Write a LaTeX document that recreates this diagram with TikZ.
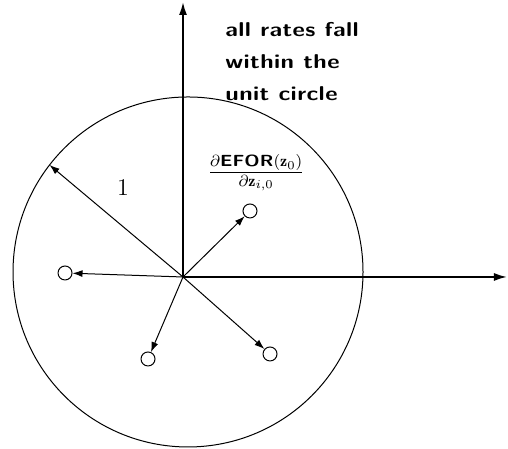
\documentclass[tikz,border=0pt]{standalone}
\usepackage{amsmath}
\usepackage{fontspec}
\usepackage{tikz}
\usetikzlibrary{arrows.meta, positioning, calc}
\newfontfamily\notefont{Latin Modern Sans}[FakeStretch=1.2, LetterSpace=2]

\begin{document}
\begin{tikzpicture}[
  x=17.5pt, y=17.5pt,
  axis/.style={-{Latex[length=6.5pt, width=4pt]}, line width=0.9pt},
  vec/.style={-{Latex[length=5pt, width=3.5pt]}, line width=0.5pt},
  dot/.style={draw, circle, line width=0.5pt, inner sep=0pt, minimum size=7pt},
  note/.style={font={\fontsize{10}{16}\selectfont\notefont\bfseries}, align=left, inner sep=0pt},
]
  \useasboundingbox (-5.229,-4.914) rectangle (9.286,7.914);

  \coordinate (o) at (0,0);
  \coordinate (c) at (0.143,0.143);
  \coordinate (xend) at (9.257,0);
  \coordinate (yend) at (0,7.857);
  \coordinate (rim) at ($(c)+(142.3:5)$);

  % unit circle and axes
  \draw[line width=0.5pt] (c) circle (5);
  \draw[axis] (o) -- (xend);
  \draw[axis] (o) -- (yend);

  % rates
  \node[dot] (a) at (1.914,1.886) {};
  \node[dot] (b) at (-3.371,0.114) {};
  \node[dot] (d) at (-1,-2.343) {};
  \node[dot] (e) at (2.486,-2.2) {};

  \draw[vec] (o) -- (rim);
  \draw[vec] (o) -- (a);
  \draw[vec] (o) -- (b);
  \draw[vec] (o) -- (d);
  \draw[vec] (o) -- (e);

  \node[font=\large] (one) at (-1.714,2.543) {1};
  \node[font=\fontsize{11.5}{14}\selectfont] (deriv) at (2.09,2.97) {$\frac{\partial \text{\notefont\bfseries EFOR}(\mathbf{z}_0)}{\partial \mathbf{z}_{i,0}}$};
  \node[note, anchor=north west] (txt) at (1.2,7.286) {all rates fall\\within the\\unit circle};
\end{tikzpicture}
\end{document}
